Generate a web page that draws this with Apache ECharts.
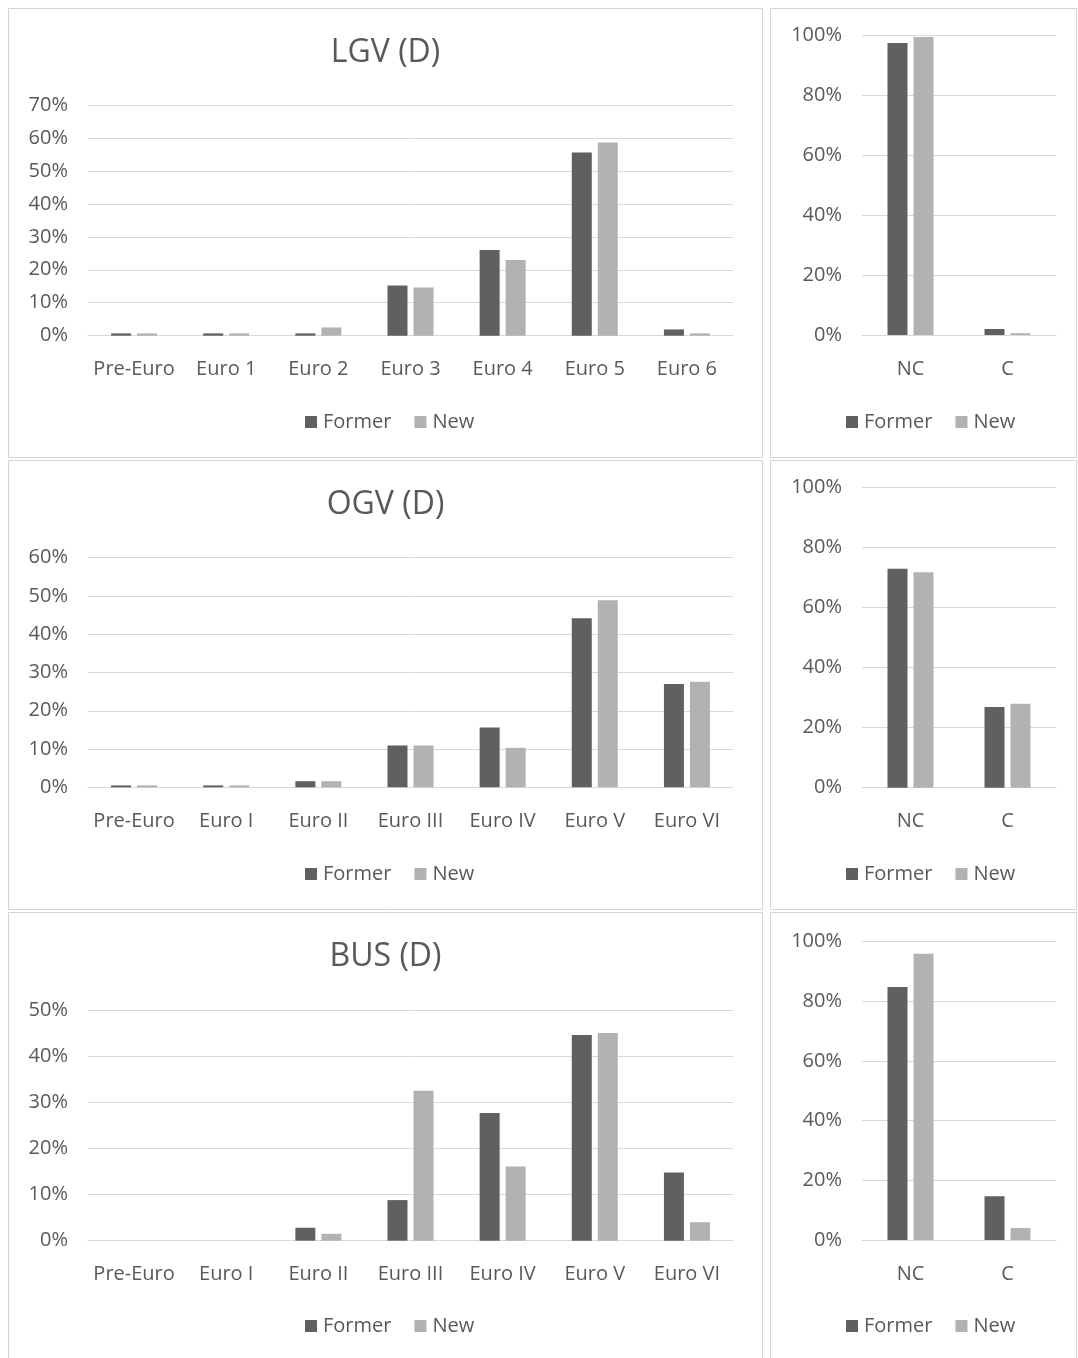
<!DOCTYPE html>
<html>
<head>
<meta charset="utf-8">
<script src="https://cdn.jsdelivr.net/npm/echarts@6/dist/echarts.min.js"></script>
<style>
  html, body { margin: 0; padding: 0; background: #ffffff; }
  #chart { width: 1078px; height: 1358px; }
</style>
</head>
<body>
<div id="chart"></div>
<script>
// Emission-standard shares (%) by vehicle class, former vs new fleet
var euroCatsLgv = ['Pre-Euro', 'Euro 1', 'Euro 2', 'Euro 3', 'Euro 4', 'Euro 5', 'Euro 6'];
var euroCatsRoman = ['Pre-Euro', 'Euro I', 'Euro II', 'Euro III', 'Euro IV', 'Euro V', 'Euro VI'];
var typeCats = ['NC', 'C'];
var seriesNames = ['Former', 'New'];

var lgvFormer = [0.7, 0.7, 0.7, 15.2, 26.0, 55.6, 1.9];
var lgvNew = [0.7, 0.7, 2.5, 14.6, 23.0, 58.6, 0.7];
var lgvTypeFormer = [97.6, 2.0];
var lgvTypeNew = [99.6, 0.6];

var ogvFormer = [0.5, 0.5, 1.6, 10.9, 15.6, 44.2, 27.0];
var ogvNew = [0.5, 0.5, 1.6, 10.9, 10.3, 48.9, 27.6];
var ogvTypeFormer = [73.0, 26.9];
var ogvTypeNew = [71.8, 28.0];

var busFormer = [0, 0, 2.8, 8.8, 27.7, 44.6, 14.8];
var busNew = [0, 0, 1.5, 32.5, 16.1, 45.0, 4.0];
var busTypeFormer = [84.8, 14.7];
var busTypeNew = [96.0, 4.0];

var titles = ['LGV (D)', 'OGV (D)', 'BUS (D)'];
var leftMax = [70, 60, 50];

var FONT = 'Open Sans';
var TEXT = '#595959';
var GRID_LINE = '#d9d9d9';
var BORDER = '#d4d4d4';
var C_FORMER = '#606060';
var C_NEW = '#b2b2b2';

var rows = [
  { top: 8, cats: euroCatsLgv, former: lgvFormer, neu: lgvNew, tFormer: lgvTypeFormer, tNew: lgvTypeNew,
    plotL: [105, 335.7], plotR: [35.7, 335] },
  { top: 460, cats: euroCatsRoman, former: ogvFormer, neu: ogvNew, tFormer: ogvTypeFormer, tNew: ogvTypeNew,
    plotL: [557.7, 787.3], plotR: [487.7, 787.7] },
  { top: 912, cats: euroCatsRoman, former: busFormer, neu: busNew, tFormer: busTypeFormer, tNew: busTypeNew,
    plotL: [1010, 1240.7], plotR: [941.7, 1240] }
];

var option = {
  backgroundColor: '#ffffff',
  animation: false,
  textStyle: { fontFamily: FONT, color: TEXT },
  title: [], legend: [], grid: [], xAxis: [], yAxis: [], series: [], graphic: []
};

function addPanel(x, y, w, h) {
  option.graphic.push({
    type: 'rect',
    shape: { x: x, y: y, width: w, height: h },
    style: { fill: 'none', stroke: BORDER, lineWidth: 1 },
    silent: true
  });
}

function addChart(idx, grid, cats, max, formerVals, newVals, legendLeft, legendTop) {
  option.grid.push(grid);
  option.xAxis.push({
    type: 'category', gridIndex: idx, data: cats,
    axisLine: { lineStyle: { color: GRID_LINE, width: 1 } },
    axisTick: { show: false },
    axisLabel: { color: TEXT, fontFamily: FONT, fontSize: 20, margin: 24, interval: 0 }
  });
  option.yAxis.push({
    type: 'value', gridIndex: idx, min: 0, max: max, interval: max === 100 ? 20 : 10,
    axisLine: { show: false }, axisTick: { show: false },
    axisLabel: { color: TEXT, fontFamily: FONT, fontSize: 20, margin: 20, formatter: '{value}%' },
    splitLine: { lineStyle: { color: GRID_LINE, width: 1 } }
  });
  option.series.push({
    type: 'bar', name: seriesNames[0], xAxisIndex: idx, yAxisIndex: idx,
    data: formerVals, barWidth: 20, barGap: '30%',
    itemStyle: { color: C_FORMER }
  });
  option.series.push({
    type: 'bar', name: seriesNames[1], xAxisIndex: idx, yAxisIndex: idx,
    data: newVals, barWidth: 20, barGap: '30%',
    itemStyle: { color: C_NEW }
  });
  option.legend.push({
    data: seriesNames, left: legendLeft, top: legendTop, padding: 0,
    icon: 'rect', itemWidth: 12, itemHeight: 12, itemGap: 23,
    selectedMode: false,
    textStyle: { color: TEXT, fontFamily: FONT, fontSize: 20, padding: [0, 0, 0, 1] }
  });
}

rows.forEach(function (r, i) {
  var y0 = r.top;
  addPanel(8.5, y0 + 0.5, 754, 449);
  addPanel(770.5, y0 + 0.5, 306, 449);

  option.title.push({
    text: titles[i], left: 385.5, top: y0 + 29, textAlign: 'center', padding: 0,
    textStyle: { color: TEXT, fontFamily: FONT, fontSize: 32, fontWeight: 'normal' }
  });

  // left: per-standard distribution
  addChart(i * 2,
    { left: 88, width: 645, top: r.plotL[0], height: r.plotL[1] - r.plotL[0] },
    r.cats, leftMax[i], r.former, r.neu, 305, y0 + 404);

  // right: NC / C split
  addChart(i * 2 + 1,
    { left: 862, width: 194, top: r.plotR[0], height: r.plotR[1] - r.plotR[0] },
    typeCats, 100, r.tFormer, r.tNew, 846, y0 + 404);
});

var chart = echarts.init(document.getElementById('chart'), null, { renderer: 'canvas' });
chart.setOption(option);
</script>
</body>
</html>
